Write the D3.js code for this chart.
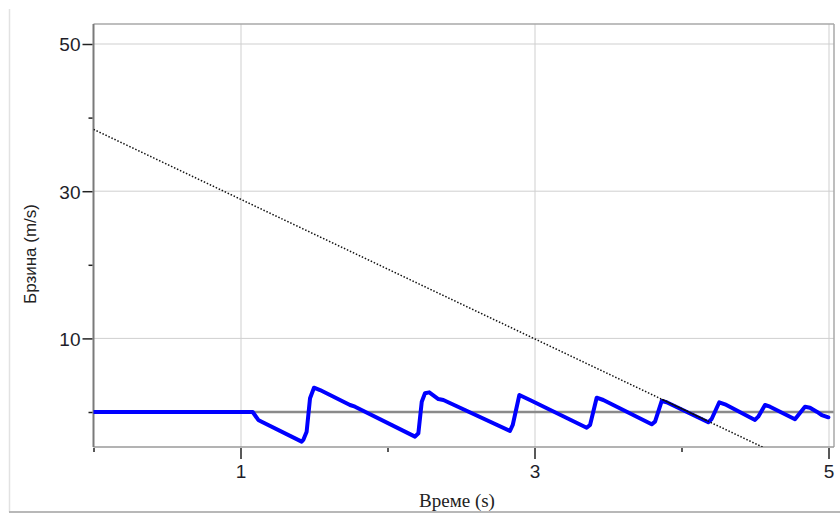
<!DOCTYPE html>
<html>
<head>
<meta charset="utf-8">
<script src="https://cdn.jsdelivr.net/npm/d3@7"></script>
<style>
  html, body { margin: 0; padding: 0; background: #fff; }
  svg { display: block; }
</style>
</head>
<body>
<svg id="chart" width="840" height="514"></svg>
<script>
// Measured speed over time (s, m/s)
const timeValues = [0, 1.083, 1.121, 1.144, 1.416, 1.427, 1.450, 1.473, 1.500, 1.541, 1.745, 1.779,
  2.187, 2.210, 2.233, 2.255, 2.284, 2.346, 2.380, 2.833, 2.852, 2.897, 2.969, 3.355, 3.378,
  3.423, 3.468, 3.797, 3.820, 3.865, 3.899, 4.182, 4.205, 4.257, 4.296, 4.500, 4.522, 4.568,
  4.602, 4.772, 4.795, 4.840, 4.874, 4.920, 4.954, 4.999];
const speedValues = [0, 0, -1.08, -1.32, -4.03, -3.80, -2.67, 1.86, 3.30, 2.98, 0.95, 0.72,
  -3.35, -2.89, 1.40, 2.54, 2.67, 1.76, 1.63, -2.58, -1.76, 2.31, 1.63, -2.13, -1.76,
  1.94, 1.63, -1.67, -1.32, 1.49, 1.32, -1.40, -0.95, 1.32, 1.04, -1.08, -0.64, 0.95,
  0.72, -0.99, -0.41, 0.72, 0.58, 0.04, -0.41, -0.72];

// Reference line (dotted) and its highlighted part
const refTime = [0, 4.555];
const refSpeed = [38.4, -4.8];
const fitTime = [3.867, 4.173];
const fitSpeed = [1.72, -1.18];

// Axis ticks
const xTicks = [0, 1, 2, 3, 4, 5];
const xLabels = [1, 3, 5];
const yTicks = [0, 10, 20, 30, 40, 50];
const yLabels = [10, 30, 50];

const xTitle = "Време (s)";
const yTitle = "Брзина (m/s)";

const svg = d3.select("#chart");
const plot = { left: 93.5, right: 834, top: 24, bottom: 447 };

const x = d3.scaleLinear().domain([0, 5]).range([93.5, 828.5]);
const y = d3.scaleLinear().domain([0, 50]).range([412, 44]);

// Outer frame (left and bottom edges)
svg.append("line").attr("x1", 9.5).attr("x2", 9.5).attr("y1", 9).attr("y2", 512)
  .attr("stroke", "#e2e2e2").attr("stroke-width", 1.5);
svg.append("line").attr("x1", 9).attr("x2", 840).attr("y1", 512).attr("y2", 512)
  .attr("stroke", "#b8b8b8").attr("stroke-width", 2);

svg.append("defs").append("clipPath").attr("id", "plotClip")
  .append("rect")
  .attr("x", plot.left).attr("y", plot.top)
  .attr("width", plot.right - plot.left).attr("height", plot.bottom - plot.top);

// Grid lines
const grid = svg.append("g");
grid.selectAll("line.gx").data(xLabels).join("line")
  .attr("x1", d => x(d) + 0.5).attr("x2", d => x(d) + 0.5)
  .attr("y1", plot.top).attr("y2", plot.bottom)
  .attr("stroke", "#cfcfcf").attr("stroke-width", 1);
grid.selectAll("line.gy").data(yLabels).join("line")
  .attr("x1", plot.left).attr("x2", plot.right)
  .attr("y1", d => y(d)).attr("y2", d => y(d))
  .attr("stroke", "#cfcfcf").attr("stroke-width", 1);

// Zero line
svg.append("line")
  .attr("x1", plot.left).attr("x2", plot.right)
  .attr("y1", y(0)).attr("y2", y(0))
  .attr("stroke", "#8a8a8a").attr("stroke-width", 2.5);

// Plot border
svg.append("line").attr("x1", plot.left).attr("x2", plot.right).attr("y1", plot.top).attr("y2", plot.top)
  .attr("stroke", "#a8a8a8").attr("stroke-width", 1.5);
svg.append("line").attr("x1", plot.right).attr("x2", plot.right).attr("y1", plot.top).attr("y2", plot.bottom)
  .attr("stroke", "#a8a8a8").attr("stroke-width", 1.5);
svg.append("line").attr("x1", plot.left).attr("x2", plot.right).attr("y1", plot.bottom).attr("y2", plot.bottom)
  .attr("stroke", "#9a9a9a").attr("stroke-width", 1.5);
svg.append("line").attr("x1", plot.left).attr("x2", plot.left).attr("y1", plot.top).attr("y2", plot.bottom)
  .attr("stroke", "#7a7a7a").attr("stroke-width", 2);

// Axes
const xAxis = d3.axisBottom(x).tickValues(xTicks)
  .tickSize(0).tickPadding(0).tickFormat(d => xLabels.includes(d) ? d : "");
const gx = svg.append("g").attr("transform", `translate(0,${plot.bottom})`).call(xAxis);
gx.select(".domain").remove();
gx.selectAll(".tick line")
  .attr("y1", 1)
  .attr("y2", d => xLabels.includes(d) ? 12 : 5)
  .attr("stroke", "#222").attr("stroke-width", 1.5);
gx.selectAll(".tick text")
  .attr("y", 31).attr("dy", null)
  .attr("font-family", "'Liberation Sans', Arial, sans-serif")
  .attr("font-size", 19).attr("fill", "#1e1e2a");

const yAxis = d3.axisLeft(y).tickValues(yTicks)
  .tickSize(0).tickPadding(0).tickFormat(d => yLabels.includes(d) ? d : "");
const gy = svg.append("g").attr("transform", `translate(${plot.left},0)`).call(yAxis);
gy.select(".domain").remove();
gy.selectAll(".tick line")
  .attr("x1", -1)
  .attr("x2", d => yLabels.includes(d) ? -11 : -5)
  .attr("stroke", "#222").attr("stroke-width", 1.5);
gy.selectAll(".tick text")
  .attr("x", -13).attr("dy", "0.36em")
  .attr("font-family", "'Liberation Sans', Arial, sans-serif")
  .attr("font-size", 19).attr("fill", "#1e1e2a");

// Data layers
const layer = svg.append("g").attr("clip-path", "url(#plotClip)");
const line = d3.line().x(d => x(d[0])).y(d => y(d[1]));

layer.append("path")
  .datum(timeValues.map((t, i) => [t, speedValues[i]]))
  .attr("d", line)
  .attr("fill", "none")
  .attr("stroke", "#0000ff")
  .attr("stroke-width", 4)
  .attr("stroke-linejoin", "round")
  .attr("stroke-linecap", "round");

layer.append("path")
  .datum(refTime.map((t, i) => [t, refSpeed[i]]))
  .attr("d", line)
  .attr("fill", "none")
  .attr("stroke", "#111")
  .attr("stroke-width", 1.5)
  .attr("stroke-dasharray", "1.5,1.8");

layer.append("path")
  .datum(fitTime.map((t, i) => [t, fitSpeed[i]]))
  .attr("d", line)
  .attr("fill", "none")
  .attr("stroke", "#111")
  .attr("stroke-width", 1.5);

// Axis titles
svg.append("text")
  .attr("x", 457).attr("y", 507)
  .attr("text-anchor", "middle")
  .attr("font-family", "'Liberation Serif', 'Times New Roman', serif")
  .attr("font-size", 19).attr("fill", "#222")
  .text(xTitle);

svg.append("text")
  .attr("transform", "translate(36,254) rotate(-90)")
  .attr("text-anchor", "middle")
  .attr("font-family", "'Liberation Sans', Arial, sans-serif")
  .attr("font-size", 17).attr("fill", "#222")
  .text(yTitle);
</script>
</body>
</html>
